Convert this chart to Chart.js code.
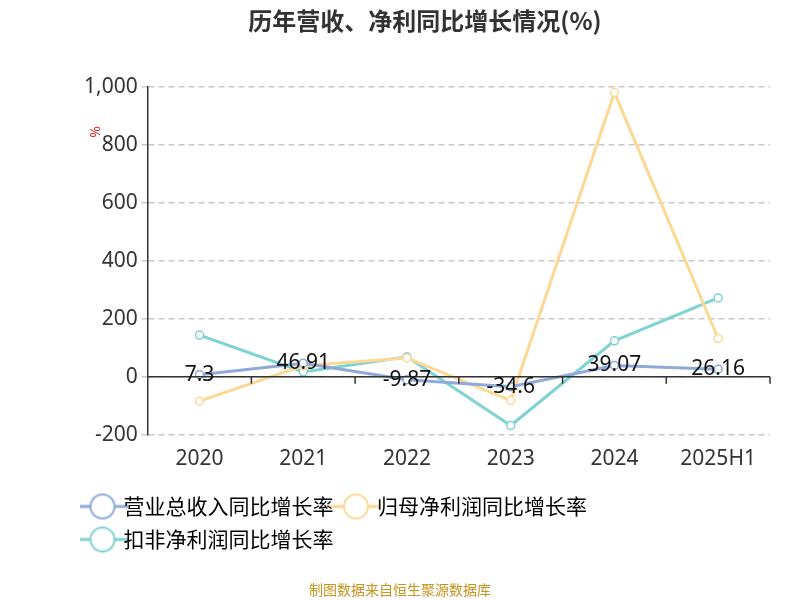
<!DOCTYPE html>
<html>
<head>
<meta charset="utf-8">
<script src="https://cdn.jsdelivr.net/npm/chart.js@4/dist/chart.umd.min.js"></script>
<style>
  body { margin: 0; background: #fff; }
  #wrap { width: 800px; height: 600px; }
</style>
</head>
<body>
<div id="wrap"><canvas id="c"></canvas></div>
<script>
// 数据
const years = ['2020', '2021', '2022', '2023', '2024', '2025H1'];
const revenueGrowth = [7.3, 46.91, -9.87, -34.6, 39.07, 26.16];
const netProfitGrowth = [-84, 38, 65, -82, 980, 132];
const deductedProfitGrowth = [144, 17, 69, -168, 124, 272];
const yTicks = [-200, 0, 200, 400, 600, 800, 1000];

const colors = ['#8fa9d9', '#fdd894', '#7fd3d2'];

// 图例图标：线加空心圆
function legendIcon(color) {
  const c = document.createElement('canvas');
  c.width = 50; c.height = 30;
  const g = c.getContext('2d');
  g.strokeStyle = color;
  g.lineWidth = 3;
  g.beginPath(); g.moveTo(0, 15); g.lineTo(50, 15); g.stroke();
  g.fillStyle = '#fff';
  g.lineWidth = 2;
  g.beginPath(); g.arc(25, 15, 12, 0, Math.PI * 2); g.fill(); g.stroke();
  return c;
}

// 零线、刻度、数据标签、单位和来源
const extras = {
  id: 'extras',
  afterDatasetsDraw(chart) {
    const { ctx, scales: { x, y }, chartArea } = chart;
    const y0 = y.getPixelForValue(0);
    ctx.save();
    ctx.strokeStyle = '#333';
    ctx.lineWidth = 1.5;
    ctx.beginPath();
    ctx.moveTo(chartArea.left, y0);
    ctx.lineTo(chartArea.right, y0);
    const step = (chartArea.right - chartArea.left) / years.length;
    for (let i = 1; i <= years.length; i++) {
      const px = chartArea.left + step * i;
      ctx.moveTo(px, y0);
      ctx.lineTo(px, y0 + 7);
    }
    ctx.stroke();

    // 营业总收入标签
    ctx.fillStyle = '#111';
    ctx.font = '21px "Noto Sans", sans-serif';
    ctx.textAlign = 'center';
    ctx.textBaseline = 'middle';
    const meta = chart.getDatasetMeta(0);
    meta.data.forEach((pt, i) => {
      ctx.fillText(String(revenueGrowth[i]), pt.x, pt.y);
    });

    // 单位
    ctx.fillStyle = '#e02020';
    ctx.font = '14px "Noto Sans", sans-serif';
    ctx.translate(96, 132);
    ctx.rotate(-Math.PI / 2);
    ctx.fillText('%', 0, 0);
    ctx.restore();

    ctx.save();
    ctx.fillStyle = '#c8921c';
    ctx.font = '14px "Noto Sans CJK SC", sans-serif';
    ctx.textAlign = 'center';
    ctx.fillText('制图数据来自恒生聚源数据库', 400, 590);
    ctx.restore();
  }
};

function mk(label, data, i) {
  return {
    label: label,
    data: data,
    borderColor: colors[i],
    backgroundColor: '#fff',
    borderWidth: 3,
    pointRadius: 4,
    pointBorderWidth: 1.5,
    pointBackgroundColor: '#fff',
    pointBorderColor: colors[i],
    tension: 0
  };
}

new Chart(document.getElementById('c'), {
  type: 'line',
  data: {
    labels: years,
    datasets: [
      mk('营业总收入同比增长率', revenueGrowth, 0),
      mk('归母净利润同比增长率', netProfitGrowth, 1),
      mk('扣非净利润同比增长率', deductedProfitGrowth, 2)
    ]
  },
  options: {
    responsive: true,
    maintainAspectRatio: false,
    animation: false,
    layout: { padding: { left: 80, right: 30, bottom: 40, top: 0 } },
    plugins: {
      title: {
        display: true,
        text: '历年营收、净利同比增长情况(%)',
        color: '#333',
        font: { size: 24, weight: 'bold', family: '"Noto Sans CJK SC", sans-serif' },
        padding: { top: 6, bottom: 52 }
      },
      legend: {
        position: 'bottom',
        align: 'start',
        labels: {
          color: '#333',
          font: { size: 21, family: '"Noto Sans CJK SC", sans-serif' },
          usePointStyle: true,
          boxWidth: 50,
          boxHeight: 26,
          padding: 12,
          generateLabels(chart) {
            return chart.data.datasets.map((d, i) => ({
              text: d.label,
              fillStyle: '#fff',
              strokeStyle: d.borderColor,
              lineWidth: 1.5,
              pointStyle: legendIcon(d.borderColor),
              datasetIndex: i
            }));
          }
        }
      },
      tooltip: { enabled: false }
    },
    scales: {
      x: {
        offset: true,
        grid: { display: false, drawTicks: false },
        border: { display: false },
        ticks: { color: '#333', font: { size: 21, family: '"Noto Sans", sans-serif' }, padding: 12 }
      },
      y: {
        min: -200,
        max: 1000,
        afterBuildTicks(scale) { scale.ticks = yTicks.map(v => ({ value: v })); },
        grid: { color: '#c8c8c8', lineWidth: 1.5, drawTicks: true, tickLength: 6 },
        border: { display: true, color: '#333', width: 1.5, dash: [6, 4] },
        ticks: {
          color: '#333',
          font: { size: 21, family: '"Noto Sans", sans-serif' },
          padding: 4,
          callback: v => v.toLocaleString('en-US')
        }
      }
    }
  },
  plugins: [extras]
});
</script>
</body>
</html>
